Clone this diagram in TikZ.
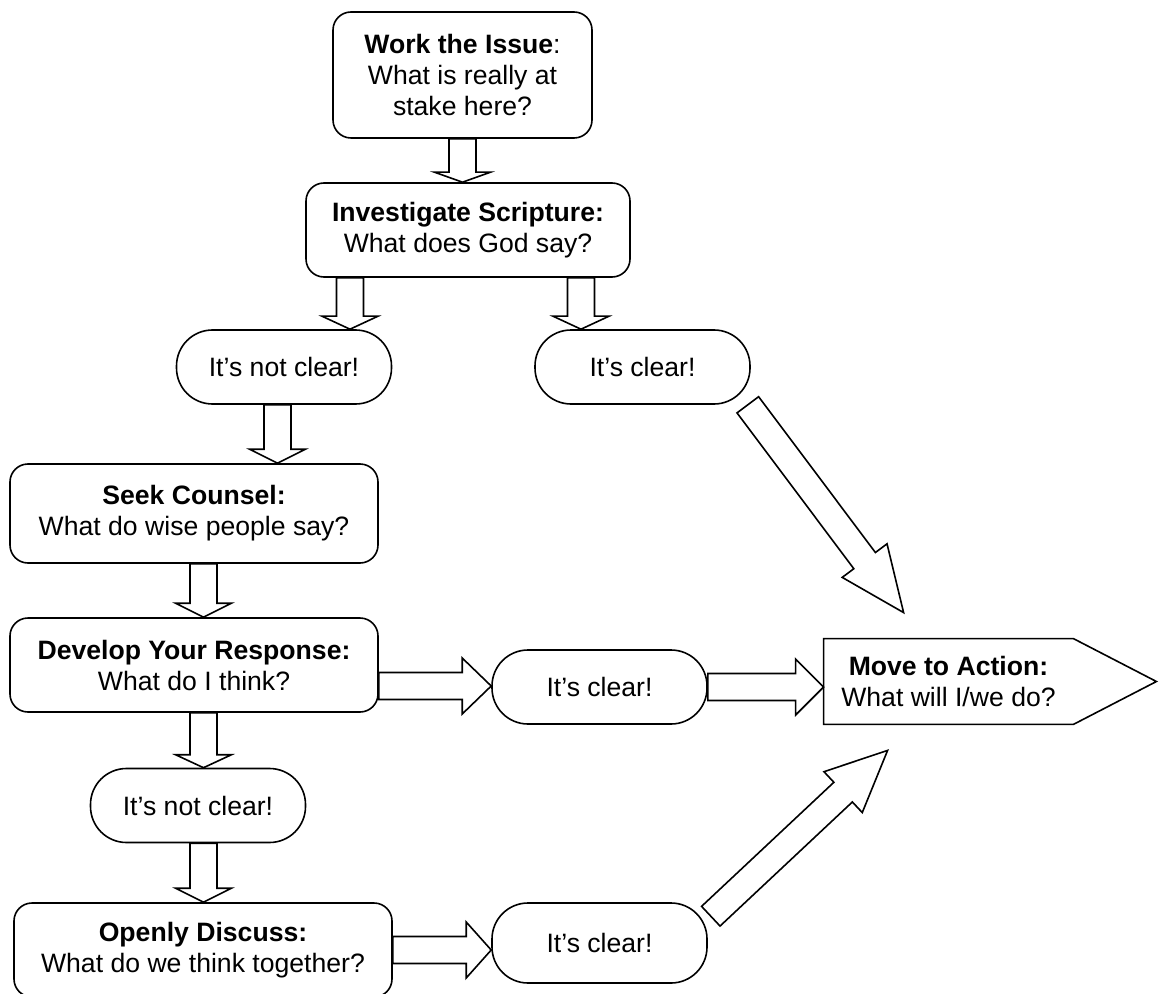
\documentclass[tikz,border=0pt]{standalone}
\usepackage{fontspec}
\setmainfont{Liberation Sans}
\usetikzlibrary{calc}
\tikzset{
  stepbox/.style={draw, line width=0.8pt, rounded corners=9pt, align=center, inner sep=2pt, font=\fontsize{13.3}{15.5}\selectfont},
  pillbox/.style={draw, line width=0.8pt, rounded corners=18pt, align=center, minimum width=107.5pt, minimum height=37pt, font=\fontsize{13.3}{15.5}\selectfont},
  actbox/.style={align=center, minimum width=124.5pt, minimum height=42.5pt, font=\fontsize{13.3}{15.5}\selectfont},
  actline/.style={line width=0.8pt, draw=black, line join=miter},
  blockarr/.style={line width=0.8pt, draw=black, fill=white, line join=miter},
}
% hollow block arrow: [head length]{tail}{tip}
\newcommand{\blockarrow}[3][6.5pt]{%
  \coordinate (ba-a) at (#2);
  \coordinate (ba-b) at (#3);
  \path ($(ba-b)!#1!(ba-a)$) coordinate (ba-h);
  \draw[blockarr] ($(ba-a)!6.75pt!90:(ba-b)$) -- ($(ba-h)!6.75pt!90:(ba-b)$) -- ($(ba-h)!14pt!90:(ba-b)$)
    -- (ba-b) -- ($(ba-h)!14pt!-90:(ba-b)$) -- ($(ba-h)!6.75pt!-90:(ba-b)$) -- ($(ba-a)!6.75pt!-90:(ba-b)$) -- cycle;
}

\begin{document}
\begin{tikzpicture}[x=0.5pt, y=-0.5pt]  % 1 unit = 1 px of the layout, y downwards
  \useasboundingbox (0,0) rectangle (1160,994);
  % steps
  \node[stepbox, minimum width=129.5pt, minimum height=63pt] (work) at (462.5,75) {\textbf{Work the Issue}:\\What is really at\\stake here?};
  \node[stepbox, minimum width=162pt, minimum height=47pt] (scripture) at (468,230) {\textbf{Investigate Scripture:}\\What does God say?};
  \node[pillbox] (notclearA) at (284,367) {It’s not clear!};
  \node[pillbox] (clearA) at (642.5,367) {It’s clear!};
  \node[stepbox, minimum width=184pt, minimum height=49.5pt] (counsel) at (194,513.5) {\textbf{Seek Counsel:}\\What do wise people say?};
  \node[stepbox, minimum width=184pt, minimum height=47pt] (develop) at (194,665) {\textbf{Develop Your Response:}\\What do I think?};
  \node[pillbox] (clearB) at (599.5,687) {It’s clear!};
  \node[pillbox] (notclearB) at (198,805.5) {It’s not clear!};
  \node[stepbox, minimum width=189pt, minimum height=47pt] (discuss) at (203,950) {\textbf{Openly Discuss:}\\What do we think together?};
  \node[pillbox, minimum height=40pt] (clearC) at (599.5,943) {It’s clear!};
  % goal, pointing right
  \node[actbox] (action) at (948.5,681.5) {\textbf{Move to Action:}\\What will I/we do?};
  \draw[actline] (action.north west) -- (action.north east) -- ([xshift=41.5pt]action.east) -- (action.south east) -- (action.south west) -- cycle;
  % arrows down
  \blockarrow[5pt]{work.south}{work.south |- scripture.north}
  \coordinate (s1) at ([xshift=-59pt]scripture.south);
  \coordinate (s2) at ([xshift=56.5pt]scripture.south);
  \blockarrow{s1}{s1 |- notclearA.north}
  \blockarrow{s2}{s2 |- clearA.north}
  \coordinate (n1) at ([xshift=-3.25pt]notclearA.south);
  \blockarrow[7pt]{n1}{n1 |- counsel.north}
  \coordinate (c1) at ([xshift=4.75pt]counsel.south);
  \blockarrow[7pt]{c1}{c1 |- develop.north}
  \coordinate (d1) at ([xshift=4.75pt]develop.south);
  \blockarrow{d1}{d1 |- notclearB.north}
  \coordinate (n2) at ([xshift=2.75pt]notclearB.south);
  \blockarrow[7pt]{n2}{n2 |- discuss.north}
  % arrows right
  \coordinate (d2) at ([yshift=-10.5pt]develop.east);
  \blockarrow[14.5pt]{d2}{d2 -| clearB.west}
  \blockarrow[14pt]{clearB.east}{clearB.east -| action.west}
  \blockarrow[12.5pt]{discuss.east}{discuss.east -| clearC.west}
  % diagonal arrows to action
  \coordinate (t1) at ([xshift=-1.5pt]clearA.south east);
  \coordinate (t2) at ([xshift=40pt,yshift=13pt]action.north west);
  \blockarrow[32.5pt]{t1}{t2}
  \coordinate (t3) at ([xshift=1.5pt,yshift=-7pt]clearC.north east);
  \coordinate (t4) at ([xshift=32pt,yshift=-13pt]action.south west);
  \blockarrow[30.5pt]{t3}{t4}
\end{tikzpicture}
\end{document}
